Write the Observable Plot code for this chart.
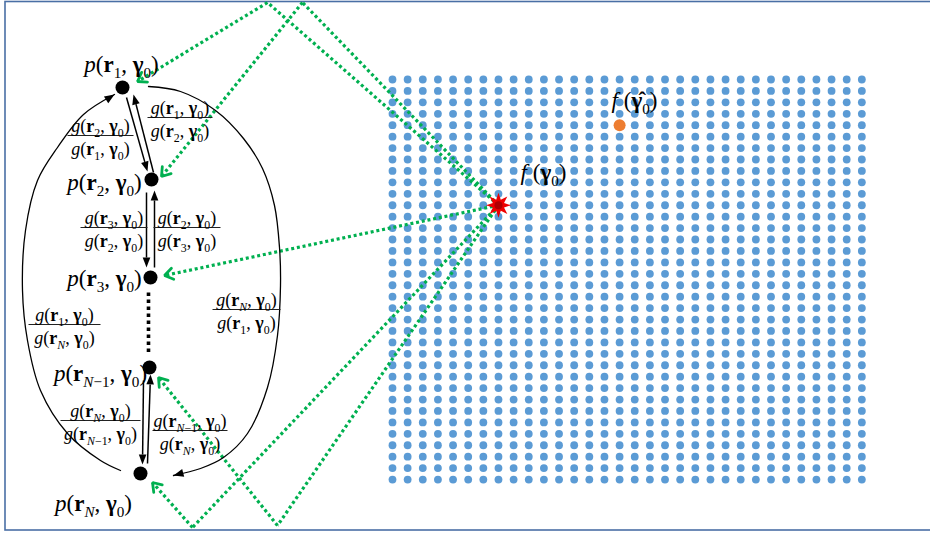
<!DOCTYPE html>
<html><head><meta charset="utf-8">
<script src="https://cdn.jsdelivr.net/npm/d3@7"></script>
<script src="https://cdn.jsdelivr.net/npm/@observablehq/plot@0.6"></script>
<style>body{margin:0;background:#fff;overflow:hidden} svg{display:block}</style>
</head><body><div id="chart"></div>
<script>
// ---- data (diagram units) ----
const gridColumns = d3.range(32);
const gridRows = d3.range(36);
const gridStart = [392, 79];
const gridStep = [15.14, 11.43];
const trueCell = {col: 7, row: 11};
const estimateCell = {col: 15, row: 4};

const chainIds = ["r1", "r2", "r3", "rN-1", "rN"];
const chainX = [122, 151, 150, 149, 140];
const chainY = [87, 179, 277, 367, 473];
const chainText = ["_p_(*r*~1~, *γ*~0~)", "_p_(*r*~2~, *γ*~0~)", "_p_(*r*~3~, *γ*~0~)", "_p_(*r*~_N_−1~, *γ*~0~)", "_p_(*r*~_N_~, *γ*~0~)"];
const chainTextX = [121, 104, 104, 100, 93];
const chainTextY = [64, 182, 278, 373, 503];

const fracNum = ["_g_(*r*~2~, *γ*~0~)", "_g_(*r*~1~, *γ*~0~)", "_g_(*r*~3~, *γ*~0~)", "_g_(*r*~2~, *γ*~0~)", "_g_(*r*~1~, *γ*~0~)", "_g_(*r*~_N_~, *γ*~0~)", "_g_(*r*~_N_~, *γ*~0~)", "_g_(*r*~_N_−1~, *γ*~0~)"];
const fracDen = ["_g_(*r*~1~, *γ*~0~)", "_g_(*r*~2~, *γ*~0~)", "_g_(*r*~2~, *γ*~0~)", "_g_(*r*~3~, *γ*~0~)", "_g_(*r*~_N_~, *γ*~0~)", "_g_(*r*~1~, *γ*~0~)", "_g_(*r*~_N_−1~, *γ*~0~)", "_g_(*r*~_N_~, *γ*~0~)"];
const fracX1 = [67, 147, 80, 153, 28, 212, 60, 152];
const fracX2 = [133, 212, 147, 220, 100, 280, 140, 227];
const fracY = [135, 117, 227, 227, 324, 309, 420, 430];

const chainArrows = [[126, 97, 147, 171], [153, 172, 133, 94], [146, 192, 146, 267], [154, 267, 154, 190], [143, 380, 142, 464], [147, 463, 150, 374]];
const leftArc = [[120, 470], [100, 460], [67, 433], [40, 390], [27, 340], [22, 290], [25, 230], [37, 180], [57, 147], [83, 114], [114, 94]];
const rightArc = [[148, 86], [180, 91], [215, 110], [243, 138], [262, 168], [274, 205], [279, 247], [280, 285], [277, 335], [267, 387], [247, 433], [223, 457], [200, 468], [173, 475]];
const ellipsisDots = [[148, 292], [148, 352]];

// green paths: from the true point, bouncing on the frame, to each chain node
const greenBounce = [[[267, 2]], [[302, 2]], [], [[277, 525]], [[192, 527]]];
const greenTip = [[137, 81], [161, 176], [164, 275], [158, 377], [152, 482]];

const fLabels = ["_f_ (*γ*~0~)", "_f_ (*γ̂*~0~)"];
const fLabelX = [543, 634];
const fLabelY = [172, 100];

const frameBox = {x1: 5, x2: 945, y1: 1.5, y2: 530};

// ---- derived ----
const gx = c => gridStart[0] + c * gridStep[0];
const gy = r => gridStart[1] + r * gridStep[1];
const same = (a, b) => a.col === b.col && a.row === b.row;
const gridDots = gridColumns.flatMap(col => gridRows.map(row => ({col, row})))
  .filter(d => !same(d, trueCell) && !same(d, estimateCell));
const starPt = [gx(trueCell.col), gy(trueCell.row)];

function head(x1, y1, x2, y2, len = 10, hw = 3.8) {
  const dx = x2 - x1, dy = y2 - y1, L = Math.hypot(dx, dy), ux = dx / L, uy = dy / L;
  const bx = x2 - ux * len, by = y2 - uy * len;
  return {base: [bx, by], pts: [[x2, y2], [bx - uy * hw, by + ux * hw], [bx + uy * hw, by - ux * hw], [x2, y2]]};
}
function chevron(x1, y1, x2, y2, len = 10, ang = 0.6) {
  const a = Math.atan2(y2 - y1, x2 - x1);
  return [[x2 - len * Math.cos(a - ang), y2 - len * Math.sin(a - ang)], [x2, y2], [x2 - len * Math.cos(a + ang), y2 - len * Math.sin(a + ang)]];
}

const heads = [], shafts = [];
chainArrows.forEach(([x1, y1, x2, y2], i) => {
  const h = head(x1, y1, x2, y2);
  h.pts.forEach(p => heads.push({id: "c" + i, x: p[0], y: p[1]}));
  shafts.push({x1, y1, x2: h.base[0], y2: h.base[1]});
});
[leftArc, rightArc].forEach((arc, i) => {
  const n = arc.length;
  const h = head(arc[n - 2][0], arc[n - 2][1], arc[n - 1][0], arc[n - 1][1], 10, 4);
  h.pts.forEach(p => heads.push({id: "a" + i, x: p[0], y: p[1]}));
});
const arcs = [...leftArc.map(p => ({id: "L", x: p[0], y: p[1]})), ...rightArc.map(p => ({id: "R", x: p[0], y: p[1]}))];

const greenSegs = [], greenHeads = [];
greenTip.forEach((tip, i) => {
  const pts = [starPt, ...greenBounce[i], tip];
  for (let k = 1; k < pts.length; k++) greenSegs.push({x1: pts[k - 1][0], y1: pts[k - 1][1], x2: pts[k][0], y2: pts[k][1]});
  const prev = pts[pts.length - 2];
  chevron(prev[0], prev[1], tip[0], tip[1]).forEach(p => greenHeads.push({id: i, x: p[0], y: p[1]}));
});

const chain = chainIds.map((id, i) => ({id, x: chainX[i], y: chainY[i], t: chainText[i], tx: chainTextX[i], ty: chainTextY[i]}));
const fracs = fracNum.map((n, i) => ({num: n, den: fracDen[i], x1: fracX1[i], x2: fracX2[i], y: fracY[i], xm: (fracX1[i] + fracX2[i]) / 2}));

const star8 = {draw(ctx, size) {
  const R = Math.sqrt(size / Math.PI), r = R * 0.48;
  for (let i = 0; i < 16; i++) {
    const a = i * Math.PI / 8 - Math.PI / 2, rr = i % 2 ? r : R;
    const x = rr * Math.cos(a), y = rr * Math.sin(a);
    i ? ctx.lineTo(x, y) : ctx.moveTo(x, y);
  }
  ctx.closePath();
}};

const serif = "Liberation Serif, Times New Roman, serif";
const green = "#00b050";

const plot = Plot.plot({
  width: 930, height: 533, margin: 0,
  x: {domain: [0, 930], range: [0, 930], axis: null},
  y: {domain: [0, 533], range: [0, 533], axis: null},
  style: {background: "white", overflow: "hidden"},
  marks: [
    Plot.rect([frameBox], {x1: "x1", x2: "x2", y1: "y1", y2: "y2", fill: "none", stroke: "#4a6fa5", strokeWidth: 1.6}),
    Plot.dot(gridDots, {x: d => gx(d.col), y: d => gy(d.row), r: 3.9, fill: "#5b9bd5"}),
    Plot.link(greenSegs, {x1: "x1", y1: "y1", x2: "x2", y2: "y2", stroke: green, strokeWidth: 3.2, strokeDasharray: "3,2.8"}),
    Plot.line(greenHeads, {x: "x", y: "y", z: "id", stroke: green, strokeWidth: 2.8, strokeLinejoin: "miter"}),
    Plot.dot([trueCell], {x: d => gx(d.col), y: d => gy(d.row), r: 12.5, symbol: star8, fill: "#ee0000", stroke: "none"}),
    Plot.dot([trueCell], {x: d => gx(d.col), y: d => gy(d.row), r: 4, fill: "#b00000", stroke: "none"}),
    Plot.dot([estimateCell], {x: d => gx(d.col), y: d => gy(d.row), r: 6, fill: "#ed7d31"}),
    Plot.line(arcs, {x: "x", y: "y", z: "id", curve: "catmull-rom", stroke: "black", strokeWidth: 1.3}),
    Plot.link(shafts, {x1: "x1", y1: "y1", x2: "x2", y2: "y2", stroke: "black", strokeWidth: 1.5}),
    Plot.line(heads, {x: "x", y: "y", z: "id", fill: "black", stroke: "none"}),
    Plot.link([ellipsisDots], {x1: d => d[0][0], y1: d => d[0][1], x2: d => d[1][0], y2: d => d[1][1], stroke: "black", strokeWidth: 3.6, strokeDasharray: "3.5,3.5"}),
    Plot.dot(chain, {x: "x", y: "y", r: 7, fill: "black"}),
    Plot.text(chain, {x: "tx", y: "ty", text: "t", fontSize: 23, fontFamily: serif, fill: "black"}),
    Plot.link(fracs, {x1: "x1", x2: "x2", y1: "y", y2: "y", stroke: "#222", strokeWidth: 1}),
    Plot.text(fracs, {x: "xm", y: d => d.y - 9, text: "num", fontSize: 18, fontFamily: serif, fill: "black"}),
    Plot.text(fracs, {x: "xm", y: d => d.y + 14, text: "den", fontSize: 18, fontFamily: serif, fill: "black"}),
    Plot.text(fLabels.map((t, i) => ({t, x: fLabelX[i], y: fLabelY[i]})), {x: "x", y: "y", text: "t", fontSize: 23, fontFamily: serif, fill: "black"})
  ]
});
document.getElementById("chart").appendChild(plot);

// turn the light markup (_italic_, *bold*, ~subscript~) into tspans
const NS = "http://www.w3.org/2000/svg";
plot.querySelectorAll("text").forEach(el => {
  const s = el.textContent;
  if (!/[_*~]/.test(s)) return;
  const fs = parseFloat(getComputedStyle(el).fontSize) || 16;
  el.textContent = "";
  let it = false, b = false, sub = false, buf = "", shift = 0;
  const flush = () => {
    if (!buf) return;
    const t = document.createElementNS(NS, "tspan");
    if (it) t.setAttribute("font-style", "italic");
    if (b) t.setAttribute("font-weight", "bold");
    const target = sub ? fs * 0.28 : 0;
    if (target !== shift) t.setAttribute("dy", target - shift);
    shift = target;
    if (sub) t.setAttribute("font-size", fs * 0.66);
    t.textContent = buf;
    el.appendChild(t);
    buf = "";
  };
  for (const ch of s) {
    if (ch === "_") { flush(); it = !it; }
    else if (ch === "*") { flush(); b = !b; }
    else if (ch === "~") { flush(); sub = !sub; }
    else buf += ch;
  }
  flush();
});
</script>
</body></html>
